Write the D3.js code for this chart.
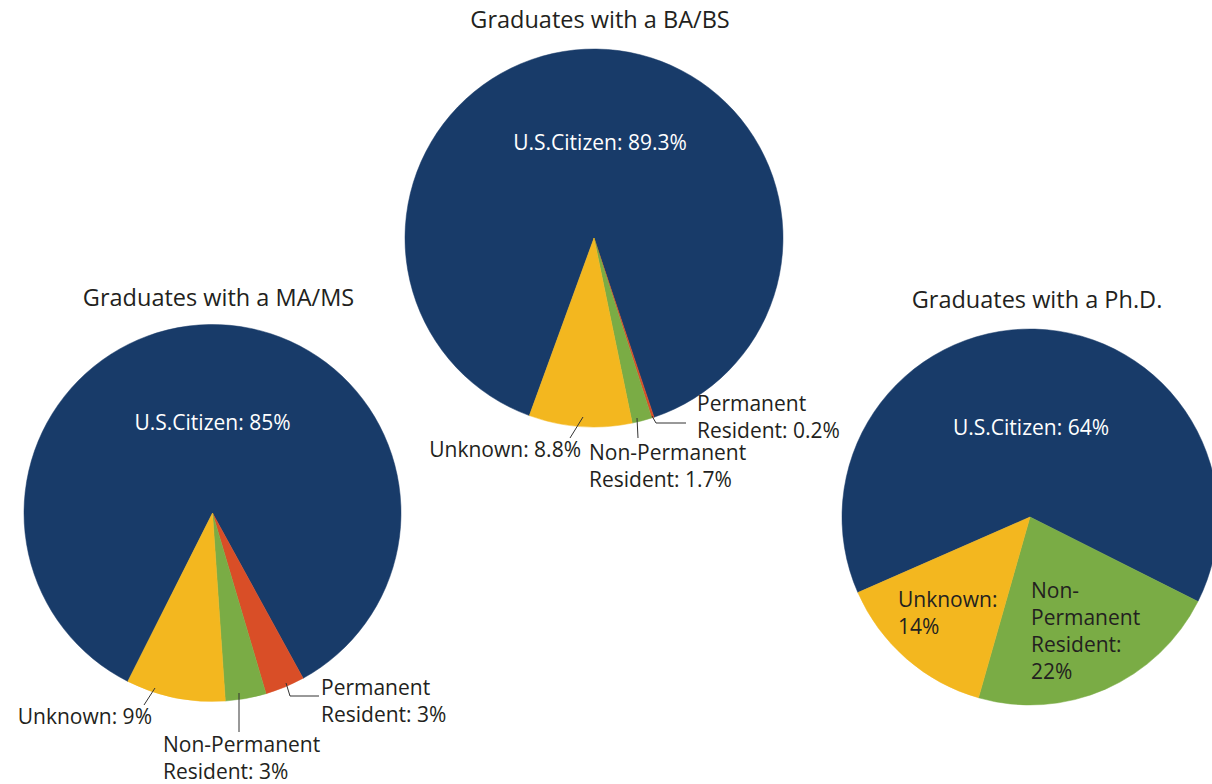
<!DOCTYPE html>
<html>
<head>
<meta charset="utf-8">
<script src="https://cdn.jsdelivr.net/npm/d3@7"></script>
<style>
  html, body { margin: 0; padding: 0; background: #ffffff; }
  svg { display: block; }
  text { font-family: "Open Sans", "Noto Sans", sans-serif; }
</style>
</head>
<body>
<svg id="chart" width="1212" height="784"></svg>
<script>
// ---- data ----
const categories = ["U.S.Citizen", "Permanent Resident", "Non-Permanent Resident", "Unknown"];
const baValues  = [89.3, 0.2, 1.7, 8.8];
const maValues  = [84.6, 3.4, 3.5, 8.5];
const phdValues = [64, 0, 22, 14];
const chartTitles = ["Graduates with a BA/BS", "Graduates with a MA/MS", "Graduates with a Ph.D."];
const colors = ["#183b69", "#d94e27", "#7aac45", "#f3b71f"];

// ---- layout (positions relative to each pie's centre) ----
const layouts = [
  { values: baValues, title: chartTitles[0], cx: 594, cy: 238, r: 189, start: -160,
    titlePos: [6, -210],
    labels: [
      { cat: 0, lines: ["U.S.Citizen: 89.3%"], pos: [6, -88], anchor: "middle", fill: "#fff" },
      { cat: 3, lines: ["Unknown: 8.8%"], pos: [-13, 219], anchor: "end", leader: [[-11, 179], [-24, 200]] },
      { cat: 2, lines: ["Non-Permanent", "Resident: 1.7%"], pos: [-5, 222], anchor: "start", leader: [[43, 180], [44, 200]] },
      { cat: 1, lines: ["Permanent", "Resident: 0.2%"], pos: [103, 173], anchor: "start", leader: [[58, 178], [62, 185], [92, 185]] }
    ] },
  { values: maValues, title: chartTitles[1], cx: 212.5, cy: 513, r: 188.5, start: -153.3,
    titlePos: [6, -207],
    labels: [
      { cat: 0, lines: ["U.S.Citizen: 85%"], pos: [0, -83], anchor: "middle", fill: "#fff" },
      { cat: 3, lines: ["Unknown: 9%"], pos: [-60.5, 211], anchor: "end", leader: [[-57.5, 175], [-68.5, 192]] },
      { cat: 2, lines: ["Non-Permanent", "Resident: 3%"], pos: [-49.5, 239], anchor: "start", leader: [[26.5, 180], [26.5, 219]] },
      { cat: 1, lines: ["Permanent", "Resident: 3%"], pos: [108.5, 182], anchor: "start", leader: [[73.5, 170], [77.5, 183], [106.5, 183]] }
    ] },
  { values: phdValues, title: chartTitles[2], cx: 1030, cy: 517, r: 188, start: -113.7,
    titlePos: [7, -209],
    labels: [
      { cat: 0, lines: ["U.S.Citizen: 64%"], pos: [1, -82], anchor: "middle", fill: "#fff" },
      { cat: 3, lines: ["Unknown:", "14%"], pos: [-132, 90], anchor: "start" },
      { cat: 2, lines: ["Non-", "Permanent", "Resident:", "22%"], pos: [1, 81], anchor: "start" }
    ] }
];

const svg = d3.select("#chart");
const lineH = 27;
const textColor = "#231f20";

layouts.forEach(cfg => {
  const a0 = cfg.start * Math.PI / 180;
  const pie = d3.pie().sort(null).startAngle(a0).endAngle(a0 + 2 * Math.PI);
  const arc = d3.arc().innerRadius(0).outerRadius(cfg.r);
  const data = categories.map((c, i) => ({ cat: c, i: i, v: cfg.values[i] }));
  const arcs = pie.value(d => d.v)(data);

  const g = svg.append("g").attr("transform", `translate(${cfg.cx},${cfg.cy})`);

  g.selectAll("path.slice")
    .data(arcs.filter(d => d.data.v > 0))
    .join("path")
    .attr("class", "slice")
    .attr("d", arc)
    .attr("fill", d => colors[d.data.i])
    .attr("stroke", d => colors[d.data.i])
    .attr("stroke-width", 0.5);

  g.append("text")
    .attr("x", cfg.titlePos[0]).attr("y", cfg.titlePos[1])
    .attr("text-anchor", "middle")
    .attr("font-size", 23.5)
    .attr("fill", textColor)
    .text(cfg.title);

  cfg.labels.forEach(lb => {
    if (lb.leader) {
      g.append("path")
        .attr("d", d3.line()(lb.leader))
        .attr("fill", "none")
        .attr("stroke", "#333")
        .attr("stroke-width", 1);
    }
    const t = g.append("text")
      .attr("text-anchor", lb.anchor)
      .attr("font-size", 21)
      .attr("fill", lb.fill || textColor);
    lb.lines.forEach((ln, k) => {
      t.append("tspan")
        .attr("x", lb.pos[0])
        .attr("y", lb.pos[1] + k * lineH)
        .text(ln);
    });
  });
});
</script>
</body>
</html>
